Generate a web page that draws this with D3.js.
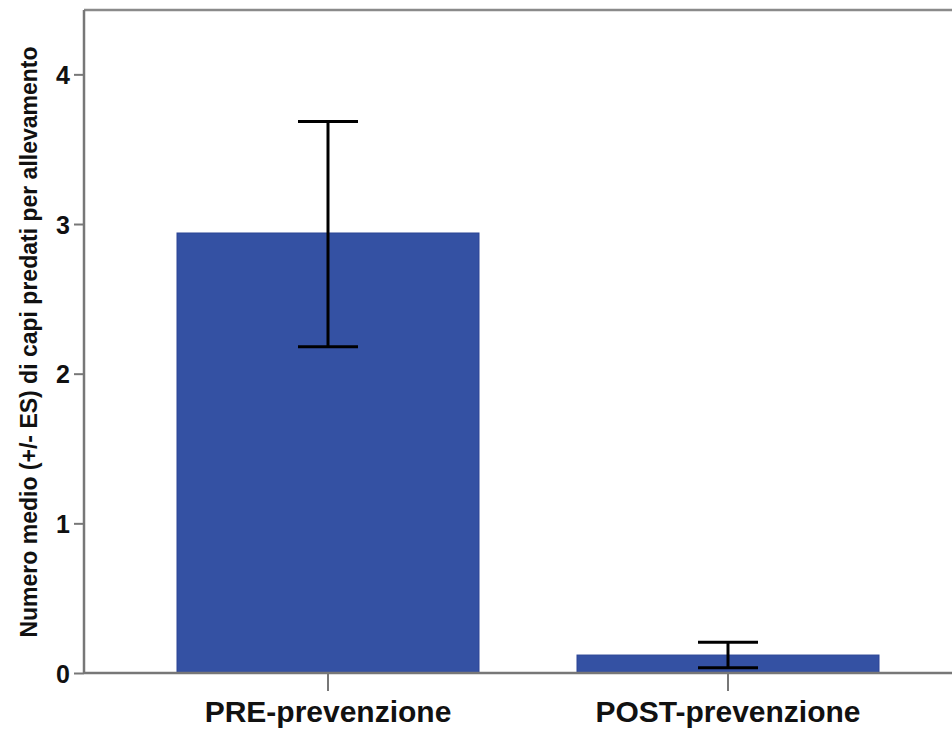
<!DOCTYPE html>
<html>
<head>
<meta charset="utf-8">
<script src="https://cdn.jsdelivr.net/npm/d3@7"></script>
<style>
  html, body { margin: 0; padding: 0; background: #fff; }
  svg { display: block; }
</style>
</head>
<body>
<svg id="chart" width="952" height="729"></svg>
<script>
const categories = ["PRE-prevenzione", "POST-prevenzione"];
const means = [2.94, 0.12];
const errLow = [0.76, 0.085];
const errHigh = [0.745, 0.085];
const yTicks = [0, 1, 2, 3, 4];
const yTitle = "Numero medio (+/- ES) di capi predati per allevamento";

(function () {
const svg = d3.select("#chart");
const mLeft = 84, mTop = 10, mBottom = 673, mRight = 972;
const font = "'Liberation Sans', Arial, sans-serif";

const y = d3.scaleLinear().domain([0, 4.43]).range([mBottom, mTop]);
const x = d3.scaleBand().domain(categories).range([mLeft, mRight])
  .paddingInner(0.245).paddingOuter(0.2325);

// frame top line
svg.append("line").attr("x1", mLeft).attr("x2", 952).attr("y1", mTop).attr("y2", mTop)
  .attr("stroke", "#8a8a8a").attr("stroke-width", 2.5);

// bars
svg.selectAll("rect.bar").data(categories).enter().append("rect")
  .attr("class", "bar")
  .attr("x", d => x(d))
  .attr("width", x.bandwidth())
  .attr("y", (d, i) => y(means[i]))
  .attr("height", (d, i) => y(0) - y(means[i]))
  .attr("fill", "#3451a3")
  .attr("stroke", "#2c4596")
  .attr("stroke-width", 1);

// y axis
const yAxis = d3.axisLeft(y).tickValues(yTicks).tickFormat(d3.format("d"))
  .tickSize(10).tickPadding(4);
const gy = svg.append("g").attr("transform", `translate(${mLeft},0)`).call(yAxis);
gy.select(".domain").attr("stroke", "#777").attr("stroke-width", 2.5)
  .attr("d", `M0,${mTop}V${mBottom}`);
gy.selectAll(".tick line").attr("stroke", "#777").attr("stroke-width", 2);
gy.selectAll(".tick text").attr("font-family", font).attr("font-weight", "bold")
  .attr("font-size", 25).attr("fill", "#111").attr("dy", "0.36em");

// x axis
const xAxis = d3.axisBottom(x).tickSize(18).tickPadding(10);
const gx = svg.append("g").attr("transform", `translate(0,${mBottom})`).call(xAxis);
gx.select(".domain").attr("stroke", "#777").attr("stroke-width", 2.5)
  .attr("d", `M${mLeft},0H${mRight}`);
gx.selectAll(".tick line").attr("stroke", "#777").attr("stroke-width", 2);
gx.selectAll(".tick text").attr("font-family", font).attr("font-weight", "bold")
  .attr("font-size", 30).attr("fill", "#111").attr("dy", "0.71em");

// error bars
const capW = 60;
const cx = d => x(d) + x.bandwidth() / 2;
const eb = svg.selectAll("g.err").data(categories).enter().append("g").attr("class", "err");
eb.append("line")
  .attr("x1", cx).attr("x2", cx)
  .attr("y1", (d, i) => y(means[i] + errHigh[i])).attr("y2", (d, i) => y(means[i] - errLow[i]))
  .attr("stroke", "#000").attr("stroke-width", 3);
eb.append("line")
  .attr("x1", d => cx(d) - capW / 2).attr("x2", d => cx(d) + capW / 2)
  .attr("y1", (d, i) => y(means[i] + errHigh[i])).attr("y2", (d, i) => y(means[i] + errHigh[i]))
  .attr("stroke", "#000").attr("stroke-width", 3);
eb.append("line")
  .attr("x1", d => cx(d) - capW / 2).attr("x2", d => cx(d) + capW / 2)
  .attr("y1", (d, i) => y(means[i] - errLow[i])).attr("y2", (d, i) => y(means[i] - errLow[i]))
  .attr("stroke", "#000").attr("stroke-width", 3);

// y title
svg.append("text")
  .attr("transform", `translate(37,342) rotate(-90)`)
  .attr("text-anchor", "middle")
  .attr("font-family", font).attr("font-weight", "bold").attr("font-size", 23)
  .attr("fill", "#111")
  .text(yTitle);
})();
</script>
</body>
</html>
